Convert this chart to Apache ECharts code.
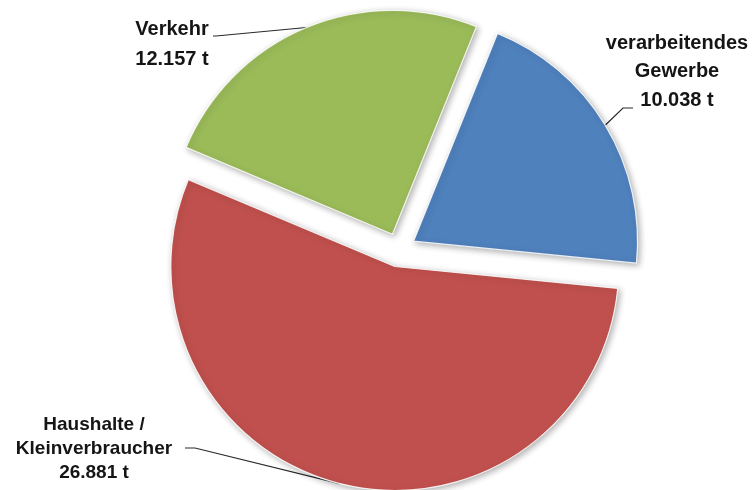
<!DOCTYPE html>
<html>
<head>
<meta charset="utf-8">
<script src="https://cdn.jsdelivr.net/npm/echarts@6/dist/echarts.min.js"></script>
<style>
  html, body { margin: 0; padding: 0; background: #ffffff; }
  #chart { width: 753px; height: 490px; }
</style>
</head>
<body>
<div id="chart"></div>
<script>
// ---- data ----
const categories = ['verarbeitendes\nGewerbe', 'Haushalte /\nKleinverbraucher', 'Verkehr'];
const values = [10038, 26881, 12157]; // tonnes
const colors = ['#4F81BD', '#C0504D', '#9BBB59'];

// ---- geometry / label placement (layout, not data) ----
const CENTER = [399, 250];
const RADIUS = 224;
const EXPLODE = 17;
const labelSpecs = [
  { x: 677, y: 29, lh: 28.5, fs: 20, bend: [623, 108], end: [633, 108] },
  { x: 94, y: 413, lh: 24, fs: 19, bend: [195, 448], end: [185, 448] },
  { x: 172, y: 14, lh: 30, fs: 20, bend: [216, 36], end: [213, 36] }
];

function fmtDe(v) {
  return String(v).replace(/\B(?=(\d{3})+(?!\d))/g, '.');
}

const chart = echarts.init(document.getElementById('chart'), null, { renderer: 'canvas' });

const sliceData = categories.map((name, i) => ({
  name: name,
  value: values[i],
  selected: true,
  itemStyle: { color: colors[i] }
}));

const labelData = categories.map((name, i) => ({
  name: name,
  value: values[i],
  label: { fontSize: labelSpecs[i].fs, lineHeight: labelSpecs[i].lh }
}));

const common = {
  type: 'pie',
  center: CENTER,
  radius: [0, RADIUS],
  startAngle: 68,
  clockwise: true,
  avoidLabelOverlap: false,
  emphasis: { disabled: true }
};

chart.setOption({
  animation: false,
  backgroundColor: '#ffffff',
  series: [
    Object.assign({}, common, {
      name: 'labels',
      silent: true,
      z: 1,
      itemStyle: { color: 'rgba(0,0,0,0)', borderWidth: 0 },
      label: {
        show: true,
        position: 'outside',
        formatter: p => p.name + '\n' + fmtDe(p.value) + ' t',
        fontFamily: 'Liberation Sans, Arial, sans-serif',
        fontWeight: 'bold',
        color: '#151515',
        align: 'center'
      },
      labelLine: {
        show: true,
        length: 10,
        length2: 10,
        lineStyle: { color: '#2a2a2a', width: 1.2 }
      },
      labelLayout: function (p) {
        const s = labelSpecs[p.dataIndex];
        const a = p.labelLinePoints[0];
        const vx = a[0] - CENTER[0], vy = a[1] - CENTER[1];
        const len = Math.sqrt(vx * vx + vy * vy) || 1;
        const k = (RADIUS + EXPLODE) / len;
        const anchor = [CENTER[0] + vx * k, CENTER[1] + vy * k];
        return {
          x: s.x,
          y: s.y,
          align: 'center',
          verticalAlign: 'top',
          labelLinePoints: [anchor, s.bend, s.end]
        };
      },
      data: labelData
    }),
    Object.assign({}, common, {
      name: 'slices',
      z: 2,
      selectedMode: 'multiple',
      selectedOffset: EXPLODE,
      itemStyle: {
        borderColor: 'rgba(255,255,255,0.85)',
        borderWidth: 1.2,
        shadowBlur: 6,
        shadowColor: 'rgba(0,0,0,0.30)',
        shadowOffsetX: 2,
        shadowOffsetY: 2
      },
      select: {
        itemStyle: {
          borderColor: 'rgba(255,255,255,0.85)',
          borderWidth: 1.2
        }
      },
      label: { show: false },
      labelLine: { show: false },
      data: sliceData
    })
  ]
});
</script>
</body>
</html>
